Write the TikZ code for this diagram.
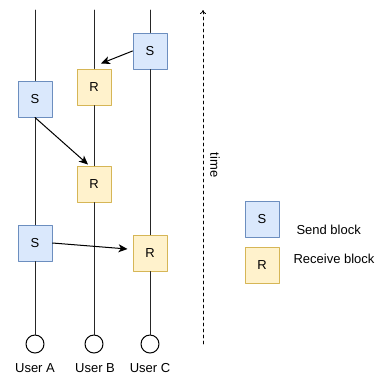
\documentclass[tikz,border=0pt]{standalone}
\usepackage{fontspec}
\setmainfont{Liberation Sans}
\usetikzlibrary{arrows.meta}
\definecolor{sendfill}{HTML}{DAE8FC}
\definecolor{senddraw}{HTML}{6C8EBF}
\definecolor{recvfill}{HTML}{FFF2CC}
\definecolor{recvdraw}{HTML}{D6B656}
\definecolor{linegray}{HTML}{262626}

\begin{document}
\begin{tikzpicture}[line cap=round,line join=round,>={Stealth[length=9pt,width=8pt,inset=2.5pt]},x=1pt,y=-1pt,
        font=\fontsize{13}{15}\selectfont,
        sendbox/.style={draw=senddraw,fill=sendfill,line width=1pt,minimum width=34pt,minimum height=36pt,inner sep=0pt},
        recvbox/.style={draw=recvdraw,fill=recvfill,line width=1pt,minimum width=34pt,minimum height=36pt,inner sep=0pt},
        user/.style={circle,draw=black,fill=white,line width=1pt,minimum size=18pt,inner sep=0pt},
        life/.style={draw=linegray,line width=1pt},
        msg/.style={->,draw=black,line width=1pt}]
        \useasboundingbox (0,0) rectangle (379,376);
        % lifeline tops
        \coordinate (tA) at (35,10);
        \coordinate (tB) at (94,10);
        \coordinate (tC) at (150,10);
        % blocks
        \node[sendbox] (sC) at (150,51) {S};
        \node[recvbox] (rB1) at (94,87) {R};
        \node[sendbox] (sA1) at (35,99) {S};
        \node[recvbox] (rB2) at (94,184) {R};
        \node[sendbox] (sA2) at (35,243) {S};
        \node[recvbox] (rC) at (150,253) {R};
        % users
        \node[user] (uA) at (35,344) {};
        \node[user] (uB) at (94,344) {};
        \node[user] (uC) at (150,344) {};
        \node (lA) at (35,368) {User A};
        \node (lB) at (95,368) {User B};
        \node (lC) at (150,368) {User C};
        % lifelines
        \draw[life] (tA) -- (sA1);
        \draw[life] (sA1) -- (sA2);
        \draw[life] (sA2) -- (uA);
        \draw[life] (tB) -- (rB1);
        \draw[life] (rB1) -- (rB2);
        \draw[life] (rB2) -- (uB);
        \draw[life] (tC) -- (sC);
        \draw[life] (sC) -- (rC);
        \draw[life] (rC) -- (uC);
        % messages
        \draw[msg] (sC.west) -- ([shift={(7,-5)}]rB1.north);
        \draw[msg] (sA1.south) -- ([shift={(-6,-1)}]rB2.north);
        \draw[msg] (sA2.east) -- ([shift={(-5,-4)}]rC.west);
        % time axis
        \coordinate (time0) at (203,344);
        \coordinate (time1) at (203,10);
        \draw[-{To[length=4pt,width=6pt]},dashed,line width=0.8pt] (time0) -- (time1);
        \node[rotate=-90] (tlabel) at (215,165) {time};
        % legend
        \node[sendbox] (legS) at (262,219) {S};
        \node[recvbox] (legR) at (262,265) {R};
        \node[anchor=west] (legStext) at (293,230) {Send block};
        \node[anchor=west] (legRtext) at (290,259) {Receive block};
\end{tikzpicture}
\end{document}
